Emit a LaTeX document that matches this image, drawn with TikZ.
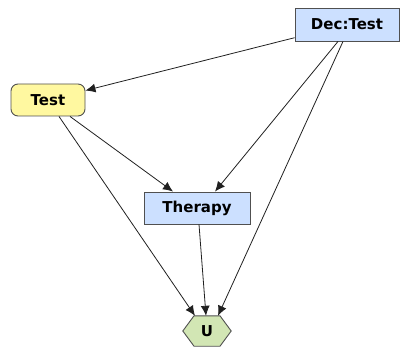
\documentclass[tikz,border=0pt]{standalone}
\usepackage{fontspec}
\setmainfont{DejaVu Sans}
\usetikzlibrary{arrows.meta}
\definecolor{decblue}{HTML}{CCE0FF}
\definecolor{chyellow}{HTML}{FFF8A0}
\definecolor{ugreen}{HTML}{D2E6B4}
\definecolor{edgec}{HTML}{202020}
\definecolor{bordc}{HTML}{505050}
\begin{document}
\begin{tikzpicture}[x=1pt,y=1pt,
  lbl/.style={font=\fontsize{15pt}{18pt}\selectfont\bfseries, text=black, inner sep=0pt},
  decbox/.style={lbl, rectangle, draw=bordc, line width=0.9pt, fill=decblue},
  chancebox/.style={lbl, rectangle, rounded corners=7pt, draw=bordc, line width=0.9pt, fill=chyellow},
  link/.style={draw=edgec, line width=0.8pt, -{Latex[length=10pt,width=9pt]}}
]
\useasboundingbox (0,0) rectangle (401,-347);
\node[decbox, minimum width=104pt, minimum height=33pt] (dec) at (347,-24.5) {Dec:Test};
\node[chancebox, minimum width=74pt, minimum height=32pt] (test) at (48,-100) {Test};
\node[decbox, minimum width=106pt, minimum height=32pt] (therapy) at (197,-208) {Therapy};
\node[lbl, minimum width=48pt, minimum height=30pt] (u) at (207,-331) {};
\filldraw[draw=bordc, line width=0.9pt, fill=ugreen]
  (u.west) -- ([xshift=-13pt]u.north) -- ([xshift=13pt]u.north) -- (u.east)
  -- ([xshift=13pt]u.south) -- ([xshift=-13pt]u.south) -- cycle;
\node[lbl] at (u.center) {U};
\draw[link] (dec) -- (test);
\draw[link] ([xshift=-9pt]dec.south) -- ([xshift=18pt]therapy.north);
\draw[link] ([xshift=-4pt]dec.south) -- ([xshift=11pt]u.north);
\draw[link] ([xshift=22pt]test.south) -- ([xshift=-24pt]therapy.north);
\draw[link] ([xshift=11pt]test.south) -- ([xshift=-12pt]u.north);
\draw[link] ([xshift=2pt]therapy.south) -- ([xshift=-1pt]u.north);
\end{tikzpicture}
\end{document}
